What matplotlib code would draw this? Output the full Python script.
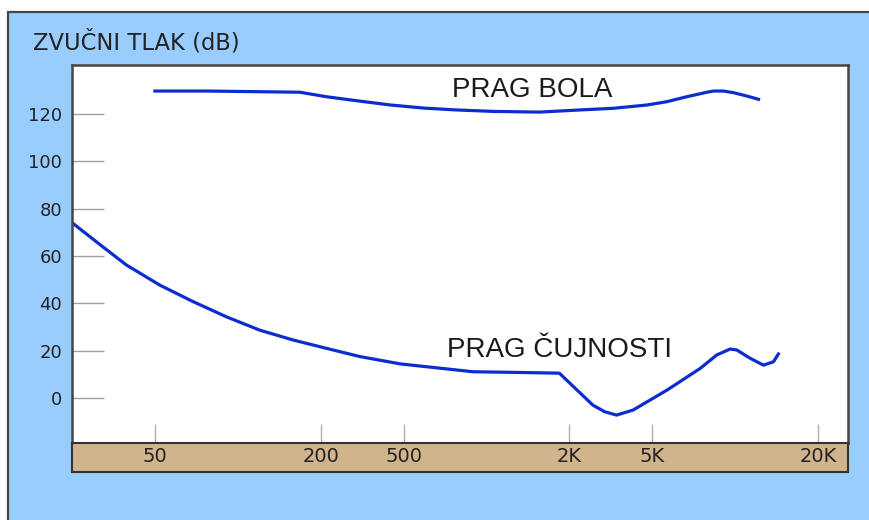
import numpy as np
import matplotlib
matplotlib.use("Agg")
import matplotlib.pyplot as plt
from matplotlib.patches import Rectangle

# threshold of pain (PRAG BOLA)
pain_hz = [50, 77, 168, 213, 298, 433, 592, 780, 1058, 1558, 2237, 3244, 4714, 5653,
           6680, 7896, 8345, 9070, 9866, 11025, 12160]
pain_db = [129.7, 129.7, 129.2, 127.3, 125.6, 123.8, 122.5, 121.7, 121.1, 120.8, 121.7, 122.4, 123.8, 125.2,
           127.3, 129.2, 129.7, 129.7, 129.0, 127.6, 126.2]

# threshold of hearing (PRAG ČUJNOSTI)
hear_hz = [20, 28.1, 36.5, 52.1, 68.9, 91, 120, 159, 213, 309, 484, 894, 1321, 1840,
           2594, 2958, 3370, 4042, 5667, 7464, 8580, 9590, 10140, 11336, 12665, 13775, 14360]
hear_db = [74.1, 63.9, 56.2, 47.7, 40.7, 34.3, 28.7, 24.5, 21.0, 17.5, 14.4, 11.1, 10.8, 10.5,
           -3.0, -5.8, -7.2, -5.1, 3.4, 12.5, 18.2, 20.7, 20.3, 16.8, 13.9, 15.3, 18.6]

x_ticks = [50, 200, 500, 2000, 5000, 20000]
x_labels = ["50", "200", "500", "2K", "5K", "20K"]
y_ticks = [0, 20, 40, 60, 80, 100, 120]

# frequency axis of the drawing: steps of x2.5 and x4 alternate
axis_hz = [8, 20, 50, 200, 500, 2000, 5000, 20000, 80000]
axis_pos = [-1, 0, 1, 3, 4, 6, 7, 9, 11]

def fwd(f):
    f = np.clip(np.asarray(f, dtype=float), 1e-6, None)
    return np.interp(np.log10(f), np.log10(axis_hz), axis_pos)

def inv(p):
    return 10 ** np.interp(p, axis_pos, np.log10(axis_hz))

BLUE_BG = "#99ccff"
LINE = "#0b2dcf"
EDGE = "#454545"

fig = plt.figure(figsize=(8.69, 5.2), dpi=100, facecolor="white")

# blue panel
fig.patches.append(Rectangle((8 / 869, -0.05), 1.2, 1 - 12 / 520 + 0.05,
                             transform=fig.transFigure, facecolor=BLUE_BG,
                             edgecolor=EDGE, linewidth=1.6, zorder=-10))

ax = fig.add_axes([72 / 869, 1 - 443 / 520, 776 / 869, 378 / 520])
ax.set_facecolor("white")
ax.set_xscale("function", functions=(fwd, inv))
ax.set_xlim(20, 25700)
ax.set_ylim(-19, 140.7)

ax.plot(pain_hz, pain_db, color=LINE, lw=2.3)
ax.plot(hear_hz, hear_db, color=LINE, lw=2.3)

ax.set_yticks(y_ticks)
ax.set_xticks(x_ticks)
ax.set_xticklabels([])
ax.minorticks_off()
ax.tick_params(axis="y", direction="in", length=23, width=1, color="#a0a0a0",
               pad=7, labelsize=13, labelcolor="#222222")
ax.tick_params(axis="x", direction="in", length=13.5, width=1, color="#b0b0b0")
for s in ax.spines.values():
    s.set_color(EDGE)
    s.set_linewidth(1.8)

ax.text(0.49, 0.915, "PRAG BOLA", transform=ax.transAxes, ha="left", va="baseline",
        fontsize=20, family="Liberation Sans", color="#1a1a1a")
ax.text(0.483, 0.2275, "PRAG ČUJNOSTI", transform=ax.transAxes, ha="left", va="baseline",
        fontsize=20, family="Liberation Sans", color="#1a1a1a")

# tan frequency band
ax2 = fig.add_axes([72 / 869, 1 - 472 / 520, 776 / 869, 29 / 520])
ax2.set_facecolor("#d2b48c")
ax2.set_xscale("function", functions=(fwd, inv))
ax2.set_xlim(20, 25700)
ax2.set_ylim(0, 1)
ax2.set_xticks([])
ax2.set_yticks([])
ax2.minorticks_off()
for s in ax2.spines.values():
    s.set_color("#333333")
    s.set_linewidth(1.5)
for f, lab in zip(x_ticks, x_labels):
    ax2.text(f, 0.33, lab, ha="center", va="baseline", fontsize=14, color="#222222")

fig.text(33 / 869, 1 - 50 / 520, "ZVUČNI TLAK (dB)", ha="left", va="baseline",
         fontsize=16.3, color="#222222")

fig.savefig("out.png", dpi=100, facecolor="white")
